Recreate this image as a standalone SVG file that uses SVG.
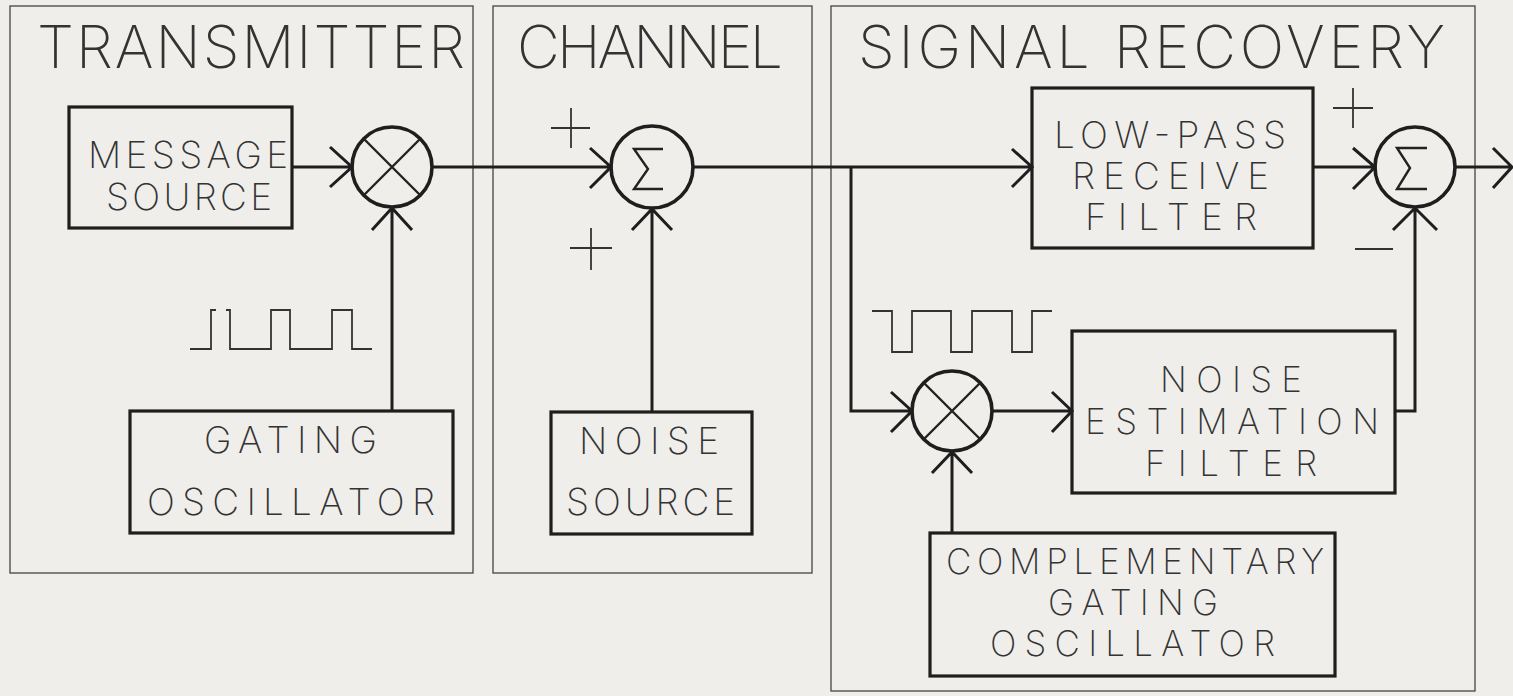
<svg xmlns="http://www.w3.org/2000/svg" width="1513" height="696" viewBox="0 0 1513 696">
<style>
.bg{fill:#efeeeb}
.panel{fill:none;stroke:#444;stroke-width:1.3}
.box{fill:none;stroke:#1e1e1e;stroke-width:3.2}
.op{fill:none;stroke:#1e1e1e;stroke-width:3.6}
.sym{fill:none;stroke:#222;stroke-width:2.4;stroke-linejoin:miter}
.wire{fill:none;stroke:#1e1e1e;stroke-width:3;stroke-linejoin:miter}
.thin{fill:none;stroke:#333;stroke-width:1.8}
.title{font-family:Inter,"DejaVu Sans","Liberation Sans",sans-serif;font-weight:200;font-size:59px;fill:#333}
.lbl{font-family:Inter,"DejaVu Sans","Liberation Sans",sans-serif;font-weight:200;font-size:37px;fill:#333}
.lbs{font-family:Inter,"DejaVu Sans","Liberation Sans",sans-serif;font-weight:200;font-size:35px;fill:#333}
</style>
<rect class="bg" x="0" y="0" width="1513" height="696"/>

<g id="panel-transmitter">
<rect class="panel" x="10" y="6" width="463" height="567"/>
<text class="title" x="37" y="68" textLength="428">TRANSMITTER</text>
</g>
<g id="panel-channel">
<rect class="panel" x="493" y="6" width="319" height="567"/>
<text class="title" x="517" y="68" textLength="266">CHANNEL</text>
</g>
<g id="panel-signal-recovery">
<rect class="panel" x="831" y="6" width="644" height="685"/>
<text class="title" x="858" y="68" textLength="587">SIGNAL RECOVERY</text>
</g>

<g id="message-source">
<rect class="box" x="69" y="107" width="223" height="121"/>
<text class="lbl" x="88" y="168" textLength="200">MESSAGE</text>
<text class="lbl" x="106" y="210" textLength="166">SOURCE</text>
</g>

<g id="multiplier-tx">
<circle class="op" cx="392" cy="167" r="40"/>
<path class="sym" d="M364,139 L420,195 M420,139 L364,195"/>
</g>

<g id="gating-oscillator">
<rect class="box" x="130" y="411" width="323" height="122"/>
<text class="lbl" x="204" y="453" textLength="173">GATING</text>
<text class="lbl" x="147" y="515" textLength="288">OSCILLATOR</text>
</g>

<g id="gating-waveform">
<path class="thin" d="M190,349 H211 V310 H216 M226,310 H230 V349 H271 V310 H290 V349 H332 V310 H352 V349 H372"/>
</g>

<g id="summer-channel">
<circle class="op" cx="652" cy="167" r="41"/>
<path class="sym" d="M663,149 H634 L648,169 L634,189 H663"/>
</g>

<g id="sum-signs-channel">
<path class="thin" d="M551,128 H590 M571,108 V148"/>
<path class="thin" d="M570,248 H612 M591,228 V270"/>
</g>

<g id="noise-source">
<rect class="box" x="551" y="412" width="201" height="122"/>
<text class="lbl" x="579" y="454" textLength="140">NOISE</text>
<text class="lbl" x="566" y="515" textLength="169">SOURCE</text>
</g>

<g id="low-pass-receive-filter">
<rect class="box" x="1032" y="88" width="281" height="160"/>
<text class="lbl" x="1054" y="148" textLength="232">LOW-PASS</text>
<text class="lbl" x="1072" y="189" textLength="197">RECEIVE</text>
<text class="lbl" x="1085" y="230" textLength="172">FILTER</text>
</g>

<g id="summer-output">
<circle class="op" cx="1415" cy="167" r="40"/>
<path class="sym" d="M1427,148 H1397 L1410,168 L1397,189 H1427"/>
</g>

<g id="sum-signs-output">
<path class="thin" d="M1333,108 H1373 M1353,88 V128"/>
<path class="thin" d="M1355,249 H1393"/>
</g>

<g id="complementary-waveform">
<path class="thin" d="M872,311 H892 V352 H912 V311 H951 V352 H972 V311 H1012 V352 H1032 V311 H1052"/>
</g>

<g id="multiplier-rx">
<circle class="op" cx="952" cy="411" r="40"/>
<path class="sym" d="M924,383 L980,439 M980,383 L924,439"/>
</g>

<g id="noise-estimation-filter">
<rect class="box" x="1072" y="331" width="323" height="162"/>
<text class="lbs" x="1160" y="392" textLength="142">NOISE</text>
<text class="lbs" x="1085" y="434" textLength="294">ESTIMATION</text>
<text class="lbs" x="1145" y="476" textLength="172">FILTER</text>
</g>

<g id="complementary-gating-oscillator">
<rect class="box" x="930" y="533" width="405" height="143"/>
<text class="lbs" x="946" y="574" textLength="378">COMPLEMENTARY</text>
<text class="lbs" x="1048" y="615" textLength="170">GATING</text>
<text class="lbs" x="990" y="656" textLength="285">OSCILLATOR</text>
</g>

<g id="connectors">
<path class="wire" d="M292,167 H352 M330,147 L352,167 L330,187"/>
<path class="wire" d="M392,411 V208 M372,230 L392,208 L412,230"/>
<path class="wire" d="M432,167 H611 M590,148 L611,167 L590,188"/>
<path class="wire" d="M652,412 V209 M632,230 L652,209 L672,230"/>
<path class="wire" d="M693,167 H1032 M1012,149 L1032,167 L1012,187"/>
<path class="wire" d="M851,167 V411 H912 M891,392 L912,411 L891,432"/>
<path class="wire" d="M992,411 H1072 M1052,392 L1072,411 L1052,432"/>
<path class="wire" d="M952,533 V452 M932,473 L952,452 L972,473"/>
<path class="wire" d="M1313,167 H1375 M1353,148 L1375,167 L1353,189"/>
<path class="wire" d="M1395,411 H1415 V208 M1393,230 L1415,208 L1437,230"/>
<path class="wire" d="M1456,167 H1512 M1493,148 L1512,167 L1493,188"/>
</g>
</svg>
